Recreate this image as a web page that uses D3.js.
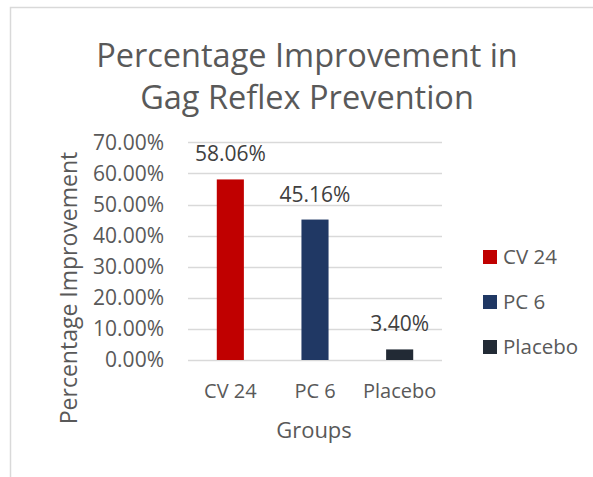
<!DOCTYPE html>
<html><head><meta charset="utf-8">
<script src="https://cdn.jsdelivr.net/npm/d3@7"></script>
<style>body{margin:0;background:#fff}svg{display:block}text{font-family:"Open Sans",sans-serif}</style>
</head><body><svg id="c" width="593" height="477"></svg>
<script>
const categories = ["CV 24", "PC 6", "Placebo"];
const values = [58.06, 45.16, 3.40];
const colors = ["#C00000", "#203864", "#222A35"];
const yTicks = [0, 10, 20, 30, 40, 50, 60, 70];
const titleLines = ["Percentage Improvement in", "Gag Reflex Prevention"];

const svg = d3.select("#c");
svg.append("rect").attr("x",10.5).attr("y",7.5).attr("width",700).attr("height",600)
  .attr("fill","#fff").attr("stroke","#d9d9d9").attr("stroke-width",1.5);

const x = d3.scaleBand().domain(categories).range([188, 442]).paddingInner(0.68).paddingOuter(0.34);
const y = d3.scaleLinear().domain([0, 70]).range([360, 142.3]);

svg.append("g").selectAll("text").data(titleLines).join("text")
  .attr("x", 307).attr("y", (d,i)=>67 + i*42).attr("text-anchor","middle")
  .attr("font-size", 32.5).attr("fill","#595959").text(d=>d);

const yAxis = d3.axisLeft(y).tickValues(yTicks).tickSize(0).tickPadding(23)
  .tickFormat(d => d.toFixed(2) + "%");
const gy = svg.append("g").attr("transform","translate(187,0)").call(yAxis);
gy.select(".domain").remove();
gy.selectAll("text").attr("font-size",21).attr("fill","#595959").attr("font-family","Open Sans");

svg.append("g").selectAll("line").data(yTicks).join("line")
  .attr("x1",188).attr("x2",442).attr("y1",d=>Math.round(y(d))+0.5).attr("y2",d=>Math.round(y(d))+0.5)
  .attr("stroke","#d9d9d9").attr("stroke-width",1.3);

svg.append("g").selectAll("rect").data(values).join("rect")
  .attr("x",(d,i)=>x(categories[i])).attr("width",x.bandwidth())
  .attr("y",d=>y(d)).attr("height",d=>y(0)-y(d)).attr("fill",(d,i)=>colors[i]);

svg.append("g").selectAll("text").data(values).join("text")
  .attr("x",(d,i)=>x(categories[i])+x.bandwidth()/2).attr("y",d=>y(d)-18)
  .attr("text-anchor","middle").attr("font-size",21).attr("fill","#404040")
  .text(d=>d.toFixed(2)+"%");

const xAxis = d3.axisBottom(x).tickSize(0).tickPadding(24);
const gx = svg.append("g").attr("transform","translate(0,360)").call(xAxis);
gx.select(".domain").remove();
gx.selectAll("text").attr("font-size",20).attr("fill","#595959").attr("font-family","Open Sans");

svg.append("text").attr("x",314).attr("y",438).attr("text-anchor","middle")
  .attr("font-size",22).attr("fill","#595959").text("Groups");
svg.append("text").attr("transform","translate(77,288) rotate(-90)").attr("text-anchor","middle")
  .attr("font-size",23).attr("fill","#595959").text("Percentage Improvement");

const leg = svg.append("g").selectAll("g").data(categories).join("g")
  .attr("transform",(d,i)=>`translate(483,${250 + i*45})`);
leg.append("rect").attr("width",14).attr("height",14).attr("fill",(d,i)=>colors[i]);
leg.append("text").attr("x",20).attr("y",7).attr("dy","0.35em").attr("font-size",20.5)
  .attr("fill","#595959").text(d=>d);
</script></body></html>
